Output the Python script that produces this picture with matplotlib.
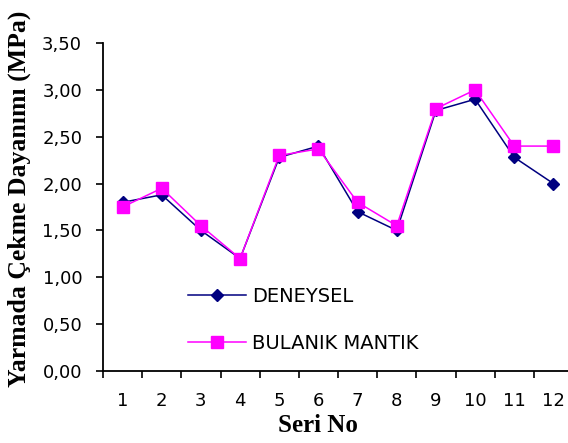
import numpy as np
import matplotlib
matplotlib.use("Agg")
import matplotlib.pyplot as plt
from matplotlib.ticker import FixedLocator, FuncFormatter

# Seri No 1..12
seri = [1, 2, 3, 4, 5, 6, 7, 8, 9, 10, 11, 12]
deneysel = [1.80, 1.88, 1.50, 1.20, 2.28, 2.40, 1.70, 1.50, 2.78, 2.90, 2.28, 2.00]
bulanik = [1.75, 1.95, 1.55, 1.20, 2.30, 2.37, 1.80, 1.55, 2.80, 3.00, 2.40, 2.40]
y_ticks = [0.0, 0.5, 1.0, 1.5, 2.0, 2.5, 3.0, 3.5]

plt.rcParams['font.family'] = ['DejaVu Sans']

fig = plt.figure(figsize=(5.68, 4.43), dpi=100)
ax = fig.add_axes([103/568, 1 - 371/443, 470/568, 328/443])

ax.plot(seri, deneysel, color='#000080', lw=1.1, marker='D', ms=6.5,
        label='DENEYSEL')
ax.plot(seri, bulanik, color='#FF00FF', lw=1.1, marker='s', ms=8.5,
        label='BULANIK MANTIK')

ax.set_xlim(0.5, 12.5)
ax.set_ylim(0, 3.5)

ax.xaxis.set_major_locator(FixedLocator(seri))
ax.xaxis.set_minor_locator(FixedLocator(np.arange(0.5, 13, 1)))
ax.tick_params(axis='x', which='major', length=0, pad=15, labelsize=13)
ax.tick_params(axis='x', which='minor', length=5, width=1.2, direction='out')
ax.yaxis.set_major_locator(FixedLocator(y_ticks))
ax.yaxis.set_major_formatter(FuncFormatter(lambda v, p: f"{v:.2f}".replace('.', ',')))
ax.tick_params(axis='y', length=5, width=1.2, direction='out', pad=10, labelsize=13)

for s in ['top', 'right']:
    ax.spines[s].set_visible(False)
for s in ['left', 'bottom']:
    ax.spines[s].set_linewidth(1.3)

ax.legend(loc='center left', bbox_to_anchor=(0.181, 0.155), frameon=False,
          fontsize=14, handlelength=3.0, handletextpad=0.3, labelspacing=1.45,
          borderpad=0, borderaxespad=0)

fig.text(19/568, 1 - 199/443, 'Yarmada Çekme Dayanımı (MPa)', rotation=90,
         ha='center', va='center', fontsize=18.5, fontweight='bold',
         family='Liberation Serif')
fig.text(318/568, 1 - 425/443, 'Seri No', ha='center', va='center',
         fontsize=18, fontweight='bold', family='Liberation Serif')

fig.savefig('out.png', dpi=100)
